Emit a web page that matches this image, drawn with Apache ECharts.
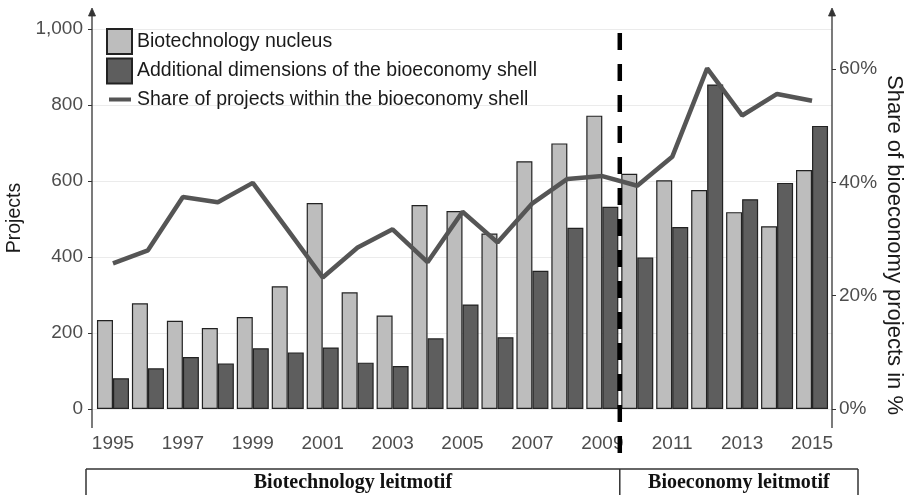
<!DOCTYPE html>
<html><head><meta charset="utf-8">
<script src="https://cdn.jsdelivr.net/npm/echarts@6/dist/echarts.min.js"></script>
<style>html,body{margin:0;padding:0;background:#fff}#c{width:911px;height:495px}</style>
</head><body><div id="c"></div>
<script>
const years = ['1995','1996','1997','1998','1999','2000','2001','2002','2003','2004','2005','2006','2007','2008','2009','2010','2011','2012','2013','2014','2015'];
const nucleus = [234,278,232,213,242,323,542,307,246,537,521,462,652,699,772,619,602,576,518,481,629];
const shell = [81,107,137,120,160,149,162,122,113,186,275,189,364,477,532,399,479,854,552,595,745];
const sharePct = [25.7,28.0,37.4,36.5,39.9,31.6,23.2,28.5,31.7,25.9,34.8,29.4,36.3,40.6,41.1,39.4,44.5,60.1,51.8,55.6,54.4];
const seriesNames = ['Biotechnology nucleus','Additional dimensions of the bioeconomy shell','Share of projects within the bioeconomy shell'];
const periodLabels = ['Biotechnology leitmotif','Bioeconomy leitmotif'];
const leftTitle = 'Projects';
const rightTitle = 'Share of bioeconomy projects in %';

const FONT = '"Liberation Sans", Arial, Helvetica, sans-serif';
const W = 911, H = 495;
const plotL = 95.5, plotR = 829.5, plotT = 29, plotB = 409;
const axL = 92, axR = 832;
const lineIcon = 'path://M0,0 L0.001,0 M25,25 L24.999,25 M2,10.5 L24,10.5 L24,14.5 L2,14.5 Z';

const chart = echarts.init(document.getElementById('c'), null, {renderer:'canvas'});
chart.setOption({
  animation:false,
  backgroundColor:'#fff',
  textStyle:{fontFamily:FONT},
  grid:[
    {left:plotL, right:W-plotR, top:plotT, bottom:H-plotB},
    {left:axL, right:W-axR, top:plotT, bottom:H-plotB},
    {left:plotL, right:W-plotR, top:69, bottom:H-plotB}
  ],
  legend:{
    orient:'vertical', left:106, top:28, itemWidth:25, itemHeight:25, itemGap:2.5, padding:0,
    textStyle:{fontSize:19.5, color:'#1a1a1a', fontFamily:FONT},
    data:[
      {name:seriesNames[0], icon:'rect'},
      {name:seriesNames[1], icon:'rect'},
      {name:seriesNames[2], icon:lineIcon, itemStyle:{color:'#555', borderWidth:0}}
    ]
  },
  xAxis:[
    {type:'category', gridIndex:0, data:years, boundaryGap:true,
     axisLine:{show:false}, axisTick:{show:false}, splitLine:{show:false},
     axisLabel:{interval:1, fontSize:19, color:'#4d4d4d', margin:25, fontFamily:FONT}},
    {type:'value', gridIndex:1, min:0, max:1, show:false},
    {type:'category', gridIndex:2, data:years, show:false, boundaryGap:true}
  ],
  yAxis:[
    {type:'value', gridIndex:0, min:0, max:1000, interval:200, offset:plotL-axL,
     axisLine:{show:false}, axisTick:{show:true, length:4, lineStyle:{color:'#333', width:1}},
     splitLine:{show:false},
     axisLabel:{fontSize:19, color:'#4d4d4d', margin:9, fontFamily:FONT, formatter:v=>v.toLocaleString('en-US')}},
    {type:'value', gridIndex:1, min:0, max:1000, interval:200,
     axisLine:{show:false}, axisTick:{show:false}, axisLabel:{show:false},
     splitLine:{show:true, lineStyle:{color:'#ebebeb', width:1}}},
    {type:'value', gridIndex:2, position:'right', min:0, max:60, interval:20, offset:axR-plotR,
     axisLine:{show:false}, axisTick:{show:true, length:4, lineStyle:{color:'#333', width:1}},
     splitLine:{show:false},
     axisLabel:{fontSize:19, color:'#4d4d4d', margin:7, fontFamily:FONT, formatter:'{value}%'}}
  ],
  series:[
    {name:seriesNames[0], type:'bar', xAxisIndex:0, yAxisIndex:0, data:nucleus, barWidth:'45.8%', barGap:'0%',
     itemStyle:{color:'#bdbdbd', borderColor:'#222', borderWidth:1.2}},
    {name:seriesNames[1], type:'bar', xAxisIndex:0, yAxisIndex:0, data:shell, barWidth:'45.8%', barGap:'0%',
     itemStyle:{color:'#5e5e5e', borderColor:'#222', borderWidth:1.2}},
    {name:seriesNames[2], type:'line', xAxisIndex:2, yAxisIndex:2, data:sharePct, symbol:'none', clip:false, z:5,
     lineStyle:{color:'#555', width:4.5}, itemStyle:{color:'#555'}}
  ]
});

const x09 = chart.convertToPixel({xAxisIndex:0}, '2009');
const x10 = chart.convertToPixel({xAxisIndex:0}, '2010');
const xDiv = (x09 + x10) / 2;
const y0 = chart.convertToPixel({yAxisIndex:0}, 0);
const y1000 = chart.convertToPixel({yAxisIndex:0}, 1000);
const ext = 19;
const boxTop = 469, boxL = 86, boxR = 858;
const axisStyle = {stroke:'#333', lineWidth:1.3, fill:null};
const g = [];
[axL, axR].forEach(x => {
  g.push({type:'line', shape:{x1:x, y1:y0+ext, x2:x, y2:y1000-ext+1}, style:axisStyle, z:10});
  g.push({type:'polygon', shape:{points:[[x-3.5,y1000-ext+6],[x,y1000-ext-2],[x+3.5,y1000-ext+6]]}, style:{fill:'#333', stroke:'#333', lineWidth:0.8}, z:10});
});
g.push({type:'line', shape:{x1:xDiv, y1:33, x2:xDiv, y2:467}, style:{stroke:'#000', lineWidth:4.5, lineDash:[17,14]}, z:20});
g.push({type:'line', shape:{x1:boxL, y1:boxTop, x2:boxR, y2:boxTop}, style:{stroke:'#333', lineWidth:1.5}, z:10});
[boxL, xDiv, boxR].forEach(x => g.push({type:'line', shape:{x1:x, y1:boxTop, x2:x, y2:H+2}, style:{stroke:'#333', lineWidth:1.5}, z:10}));
const serifBold = 'bold 20px "Liberation Serif", "Times New Roman", serif';
g.push({type:'text', x:(boxL+xDiv)/2, y:483, style:{text:periodLabels[0], font:serifBold, fill:'#111', align:'center', verticalAlign:'middle'}, z:10});
g.push({type:'text', x:(xDiv+boxR)/2, y:483, style:{text:periodLabels[1], font:serifBold, fill:'#111', align:'center', verticalAlign:'middle'}, z:10});
g.push({type:'text', x:15, y:218, rotation:Math.PI/2, style:{text:leftTitle, font:'19.5px ' + FONT, fill:'#1a1a1a', align:'center', verticalAlign:'middle'}, z:10});
g.push({type:'text', x:894, y:245, rotation:-Math.PI/2, style:{text:rightTitle, font:'22px ' + FONT, fill:'#1a1a1a', align:'center', verticalAlign:'middle'}, z:10});
chart.setOption({graphic:g});
</script>
</body></html>
